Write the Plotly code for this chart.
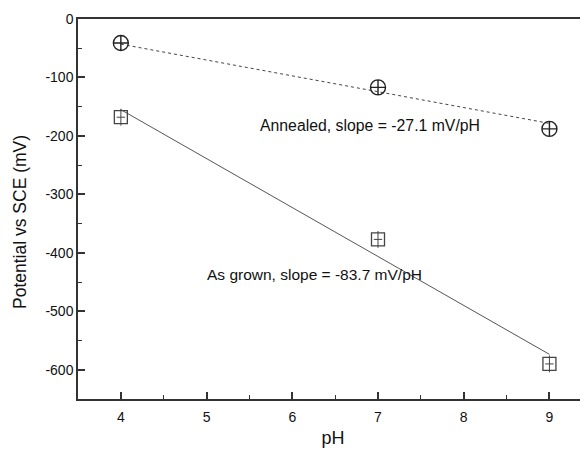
import plotly.graph_objects as go
import numpy as np

ph = [4, 7, 9]
annealed = [-41, -117, -188]
as_grown = [-168, -377, -590]
slope_annealed = -27.1
slope_grown = -83.7
x_ticks = [4, 5, 6, 7, 8, 9]
y_ticks = [0, -100, -200, -300, -400, -500, -600]
y_tick_text = ["0", "-100", "-200", "-300", "-400", "-500", "-600"]

def fit_line(x, y, slope):
    xm, ym = np.mean(x), np.mean(y)
    xs = np.array([min(x), max(x)])
    return xs, ym + slope * (xs - xm)

fig = go.Figure()
ax, ay = fit_line(ph, annealed, slope_annealed)
gx, gy = fit_line(ph, as_grown, slope_grown)

fig.add_trace(go.Scatter(x=ax, y=ay, mode="lines",
                         line=dict(color="#444", width=1, dash="dot"), showlegend=False))
fig.add_trace(go.Scatter(x=gx, y=gy, mode="lines",
                         line=dict(color="#555", width=1), showlegend=False))
fig.add_trace(go.Scatter(x=ph, y=annealed, mode="markers",
                         marker=dict(symbol="circle-cross-open", size=15,
                                     color="#222", line=dict(width=1.4, color="#222")),
                         showlegend=False))
fig.add_trace(go.Scatter(x=ph, y=as_grown, mode="markers",
                         marker=dict(symbol="square-open", size=13,
                                     color="#444", line=dict(width=1.3, color="#444")),
                         showlegend=False))
fig.add_trace(go.Scatter(x=ph, y=as_grown, mode="markers",
                         marker=dict(symbol="line-ns-open", size=12,
                                     color="#444", line=dict(width=1, color="#444")),
                         showlegend=False))
fig.add_trace(go.Scatter(x=ph, y=as_grown, mode="markers",
                         marker=dict(symbol="line-ew-open", size=6,
                                     color="#444", line=dict(width=1, color="#444")),
                         showlegend=False))

fig.add_annotation(x=6.91, y=-182, text="Annealed, slope = -27.1 mV/pH",
                   showarrow=False, font=dict(size=15.8, color="#111"))
fig.add_annotation(x=6.26, y=-437, text="As grown, slope = -83.7 mV/pH",
                   showarrow=False, font=dict(size=15.5, color="#111"))
fig.add_annotation(xref="paper", yref="paper", x=-0.1137, y=0.4658,
                   text="Potential vs SCE (mV)", textangle=-90, showarrow=False,
                   xanchor="center", yanchor="middle",
                   font=dict(size=17.5, color="#111"))

axis_common = dict(showgrid=False, zeroline=False, showline=True, linecolor="#333",
                   linewidth=1.5, ticks="inside", tickcolor="#333", tickwidth=1.5,
                   ticklen=7, tickfont=dict(size=14, color="#111"), automargin=False)
fig.update_xaxes(range=[3.5, 9.45], tickvals=x_ticks, mirror=True, ticklabelstandoff=4,
                 minor=dict(ticks="inside", ticklen=4, dtick=0.5, tickcolor="#333", tickwidth=1.2),
                 title=dict(text="pH", font=dict(size=18, color="#111"), standoff=8),
                 **axis_common)
fig.update_yaxes(range=[-650, 0], tickvals=y_ticks, ticktext=y_tick_text, mirror=False,
                 minor=dict(ticks="inside", ticklen=4, dtick=50, tickcolor="#333", tickwidth=1.2),
                 **axis_common)
fig.update_layout(width=580, height=446, margin=dict(l=70, r=0, t=11, b=55),
                  plot_bgcolor="white", paper_bgcolor="white",
                  font=dict(family="Liberation Sans, Arial, sans-serif"))
fig.write_html("out.html")
